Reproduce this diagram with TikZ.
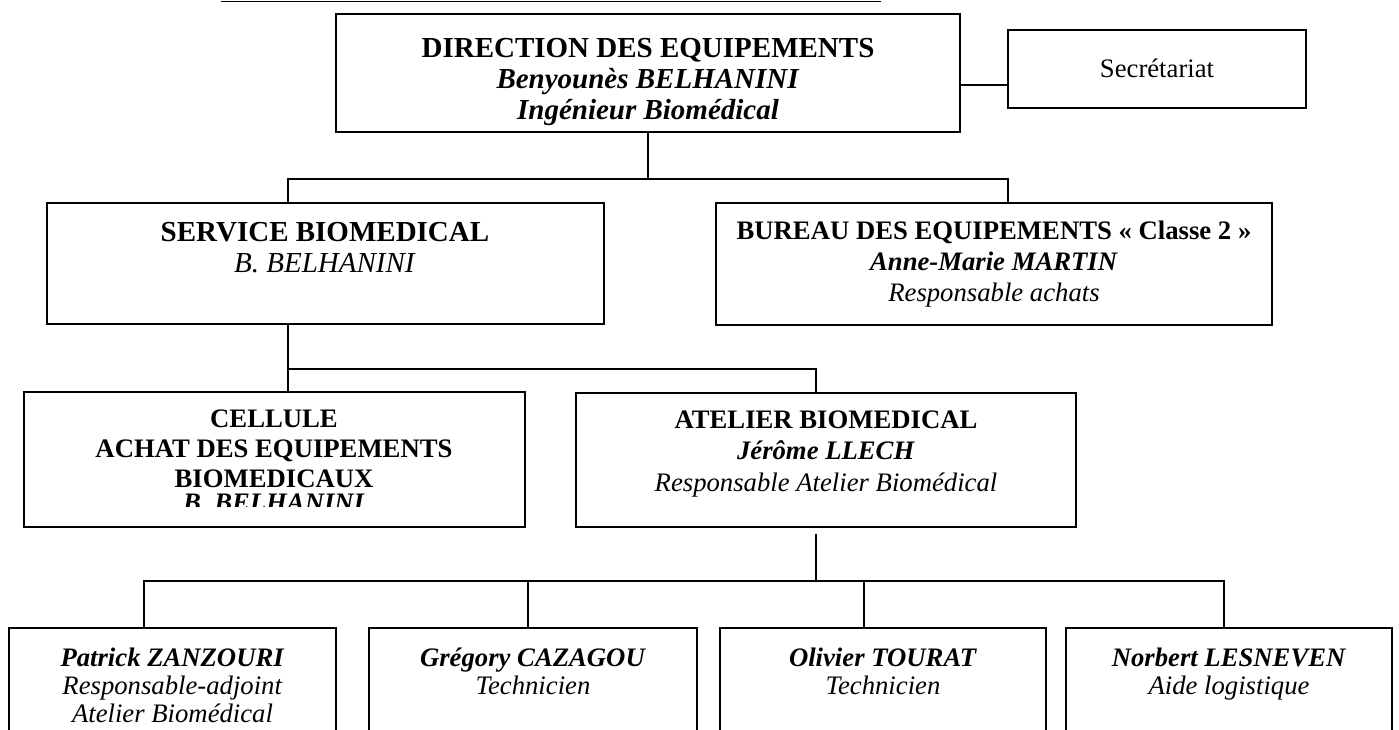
\documentclass[tikz,border=0pt]{standalone}
\usepackage{fontspec}
\setmainfont{Liberation Serif}
\begin{document}
\begin{tikzpicture}[x=1pt,y=-1pt,
  box/.style={draw,line width=1.6pt,inner sep=0pt},
  conn/.style={line width=1.6pt},
  lbl/.style={align=center,anchor=base,inner sep=0pt,font=\fontsize{26.7}{#1}\selectfont},
  lbl/.default=31,
  biglbl/.style={align=center,anchor=base,inner sep=0pt,font=\fontsize{29}{31}\selectfont}]
\useasboundingbox (0,0) rectangle (1399,729);
\clip (0,0) rectangle (1399,729);

\draw[line width=1.8pt] (221,1.5) -- (881,1.5);

% boxes
\node[box,minimum width=624pt,minimum height=118pt] (dir) at (648,73) {};
\node[box,minimum width=298pt,minimum height=78pt] (sec) at (1157,69) {};
\node[box,minimum width=557pt,minimum height=121pt] (svc) at (325.5,263.5) {};
\node[box,minimum width=556pt,minimum height=122pt] (bur) at (994,264) {};
\node[box,minimum width=501pt,minimum height=135pt] (cel) at (274.5,459.5) {};
\node[box,minimum width=500pt,minimum height=134pt] (atl) at (826,460) {};
\node[box,minimum width=327pt,minimum height=172pt] (p1) at (172.5,714) {};
\node[box,minimum width=328pt,minimum height=172pt] (p2) at (533,714) {};
\node[box,minimum width=326pt,minimum height=172pt] (p3) at (883,714) {};
\node[box,minimum width=326pt,minimum height=172pt] (p4) at (1229,714) {};

% texts (base anchor = baseline of the last line)
\node[biglbl] (dirt) at (648,119) {\textbf{DIRECTION DES EQUIPEMENTS}\\\textbf{\textit{Benyounès BELHANINI}}\\\textbf{\textit{Ingénieur Biomédical}}};
\node[lbl] (sect) at (1157,77) {Secrétariat};
\node[biglbl] (svct) at (325,272) {\textbf{SERVICE BIOMEDICAL}\\\textit{B. BELHANINI}};
\node[lbl] (burt) at (994,301) {\textbf{BUREAU DES EQUIPEMENTS « Classe 2 »}\\\textbf{\textit{Anne-Marie MARTIN}}\\\textit{Responsable achats}};
\begin{scope}
\clip (0,380) rectangle (560,506);
\node[lbl=30] (celt) at (274,511) {\textbf{CELLULE}\\\textbf{ACHAT DES EQUIPEMENTS}\\\textbf{BIOMEDICAUX}\\[-6pt]\textbf{\textit{B. BELHANINI}}};
\end{scope}
\node[lbl=31.5] (atlt) at (826,491) {\textbf{ATELIER BIOMEDICAL}\\\textbf{\textit{Jérôme LLECH}}\\\textit{Responsable Atelier Biomédical}};
\node[lbl=28] (p1t) at (172.5,722) {\textbf{\textit{Patrick ZANZOURI}}\\\textit{Responsable-adjoint}\\\textit{Atelier Biomédical}};
\node[lbl=28] (p2t) at (533,694) {\textbf{\textit{Grégory CAZAGOU}}\\\textit{Technicien}};
\node[lbl=28] (p3t) at (883,694) {\textbf{\textit{Olivier TOURAT}}\\\textit{Technicien}};
\node[lbl=28] (p4t) at (1229,694) {\textbf{\textit{Norbert LESNEVEN}}\\\textit{Aide logistique}};

% connectors
\draw[conn] (dir.east |- 0,85) -- (sec.west |- 0,85);
\draw[conn] (dir.south) -- (648,179) coordinate (jd);
\draw[conn] (svc.north -| 288,0) |- (jd) -| (bur.north -| 1008,0);
\draw[conn] (svc.south -| 288,0) -- (cel.north -| 288,0);
\draw[conn] (288,369) -| (atl.north -| 816,0);
\draw[conn] (atl.south -| 816,0) ++(0,6) -- (816,581) coordinate (ja);
\draw[conn] (p1.north -| 144,0) |- (ja) -| (p4.north -| 1224,0);
\draw[conn] (528,581) -- (p2.north -| 528,0);
\draw[conn] (864,581) -- (p3.north -| 864,0);
\end{tikzpicture}
\end{document}
